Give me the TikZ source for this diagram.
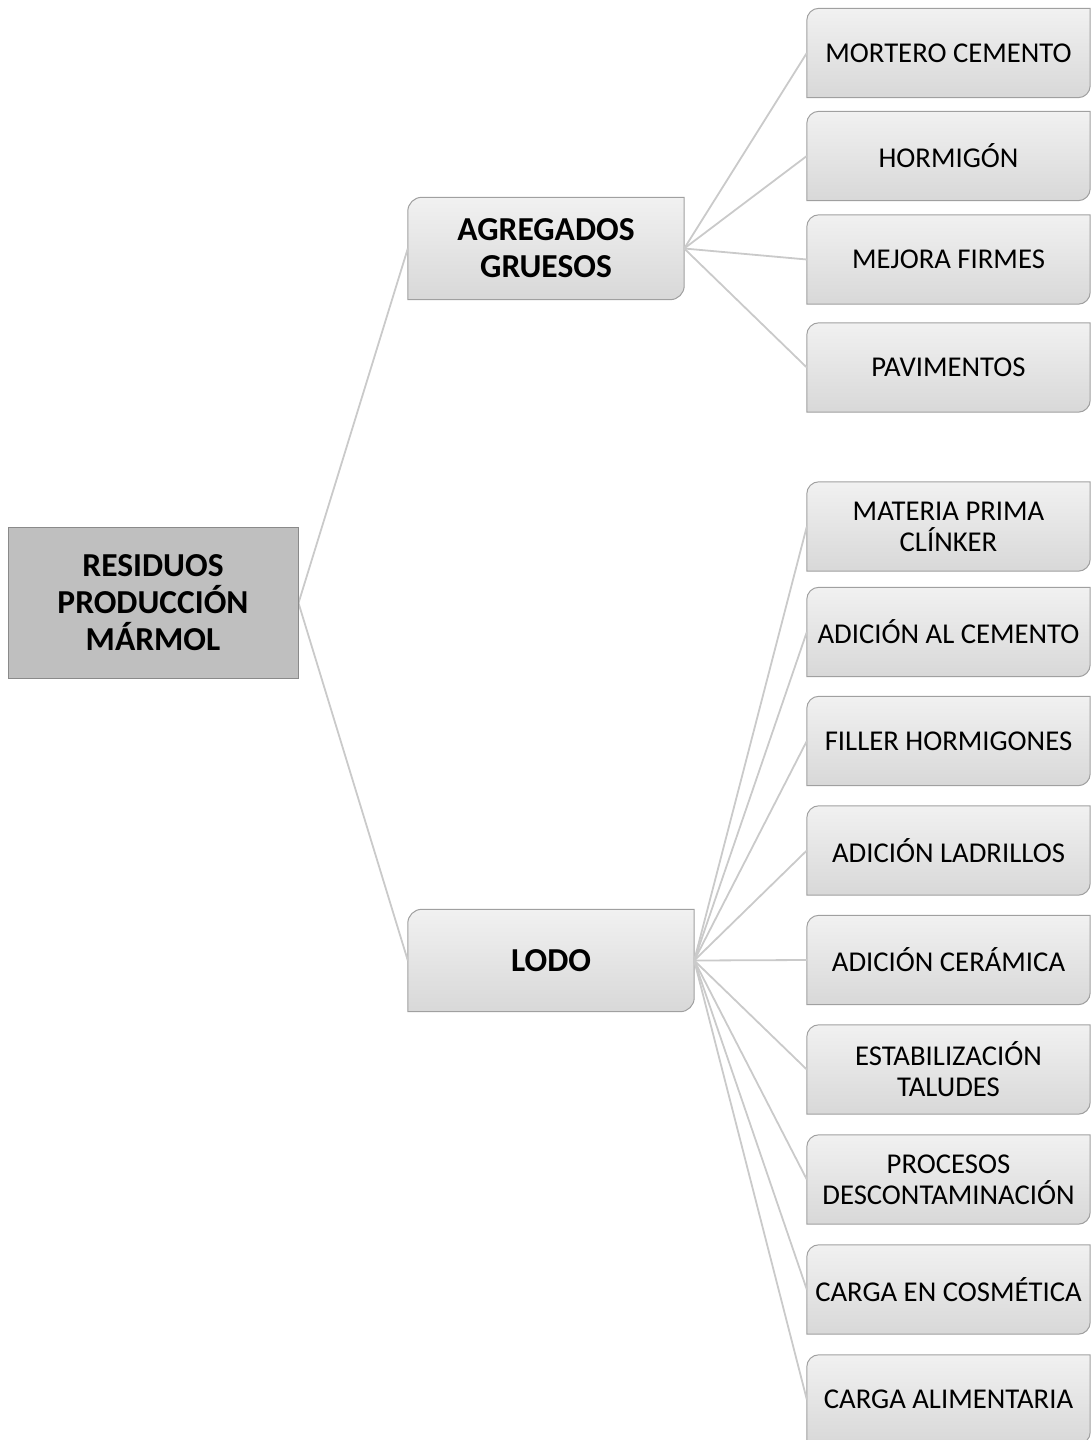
\documentclass[tikz,border=0pt]{standalone}
\usepackage{fontspec}
\setmainfont{Carlito}
\usetikzlibrary{backgrounds,calc}
\definecolor{edgegray}{HTML}{CACACA}
\definecolor{boxline}{HTML}{A0A0A0}
\definecolor{boxtop}{HTML}{F1F1F1}
\definecolor{boxbot}{HTML}{D8D8D8}
\definecolor{rootfill}{HTML}{BFBFBF}
\definecolor{rootline}{HTML}{8A8A8A}
\tikzset{
  rootbox/.style={minimum width=290pt, minimum height=151pt, inner sep=0pt,
    align=center, font=\fontsize{33.5}{37}\selectfont\bfseries,
    fill=rootfill, draw=rootline, line width=1pt},
  branchbox/.style={minimum height=102pt, inner sep=0pt, align=center,
    font=\fontsize{33.5}{37}\selectfont\bfseries},
  leafbox/.style={minimum width=283pt, minimum height=89pt, inner sep=0pt,
    align=center, font=\fontsize{28.7}{31}\selectfont},
  link/.style={draw=edgegray, line width=1.8pt},
  panel/.style={draw=boxline, line width=1pt, top color=boxtop, bottom color=boxbot}
}
% box outline with rounded top-left and bottom-right corners
% #2 = corner radius, #3 = 0.448 * radius (control offset for a circular arc)
% (the picture uses a downward y axis, so +y points down)
\newcommand\cutpanel[3]{%
  \path[panel] (#1.north east) -- ($(#1.north west)+(#2,0)$)
    .. controls ($(#1.north west)+(#3,0)$) and ($(#1.north west)+(0,#3)$)
    .. ($(#1.north west)+(0,#2)$)
    -- (#1.south west) -- ($(#1.south east)+(-#2,0)$)
    .. controls ($(#1.south east)+(-#3,0)$) and ($(#1.south east)+(0,-#3)$)
    .. ($(#1.south east)+(0,-#2)$) -- cycle;}
\begin{document}
\begin{tikzpicture}[x=1pt,y=-1pt]
\useasboundingbox (0,0) rectangle (1091,1440);
\begin{scope}
\clip (0,0) rectangle (1091,1440);
% root and branches
\node[rootbox] (root) at (153,603) {RESIDUOS\\PRODUCCIÓN\\MÁRMOL};
\node[branchbox, minimum width=276pt] (agr) at (546,248.5) {AGREGADOS\\GRUESOS};
\node[branchbox, minimum width=286pt] (lodo) at (551,960.5) {LODO};
% leaves of the coarse aggregate branch
\node[leafbox] (l1) at (948.5,53) {MORTERO CEMENTO};
\node[leafbox] (l2) at (948.5,156) {HORMIGÓN};
\node[leafbox] (l3) at (948.5,259.5) {MEJORA FIRMES};
\node[leafbox] (l4) at (948.5,367.5) {PAVIMENTOS};
% leaves of the sludge branch
\node[leafbox] (m1) at (948.5,526.5) {MATERIA PRIMA\\CLÍNKER};
\node[leafbox] (m2) at (948.5,632) {ADICIÓN AL CEMENTO};
\node[leafbox] (m3) at (948.5,741) {FILLER HORMIGONES};
\node[leafbox] (m4) at (948.5,850.5) {ADICIÓN LADRILLOS};
\node[leafbox] (m5) at (948.5,960) {ADICIÓN CERÁMICA};
\node[leafbox] (m6) at (948.5,1069.5) {ESTABILIZACIÓN\\TALUDES};
\node[leafbox] (m7) at (948.5,1179.5) {PROCESOS\\DESCONTAMINACIÓN};
\node[leafbox] (m8) at (948.5,1289.5) {CARGA EN COSMÉTICA};
\node[leafbox] (m9) at (948.5,1399.5) {CARGA ALIMENTARIA};
\begin{scope}[on background layer]
  \cutpanel{agr}{14}{6.3}
  \cutpanel{lodo}{14}{6.3}
  \foreach \n in {l1,l2,l3,l4,m1,m2,m3,m4,m5,m6,m7,m8,m9}{\cutpanel{\n}{12}{5.4}}
  \draw[link] (root.east) -- (agr.west);
  \draw[link] (root.east) -- (lodo.west);
  \foreach \n in {l1,l2,l3,l4}{\draw[link] (agr.east) -- (\n.west);}
  \foreach \n in {m1,m2,m3,m4,m5,m6,m7,m8,m9}{\draw[link] (lodo.east) -- (\n.west);}
\end{scope}
\end{scope}
\end{tikzpicture}
\end{document}
